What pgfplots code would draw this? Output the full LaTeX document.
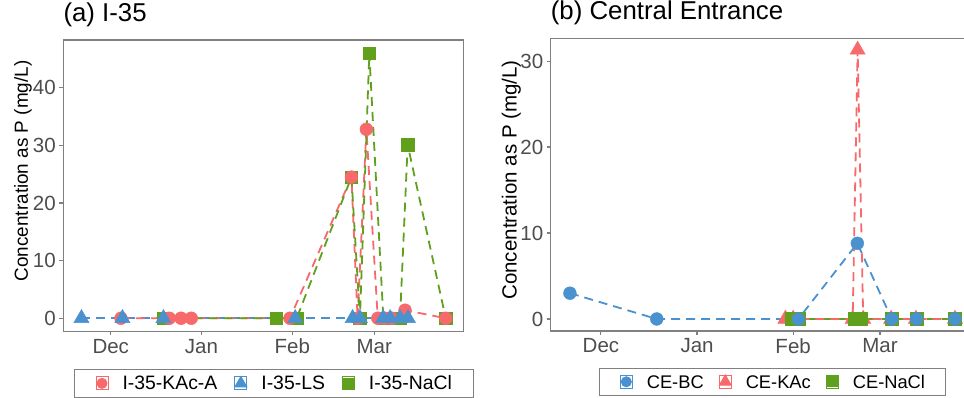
\documentclass[border=0pt]{standalone}
\usepackage{pgfplots}
\pgfplotsset{compat=1.18}
\usepackage{fontspec}
\setmainfont{Liberation Sans}
\definecolor{cred}{RGB}{248,105,107}
\definecolor{cblue}{RGB}{74,145,208}
\definecolor{cgreen}{RGB}{97,160,28}
\definecolor{tickgray}{RGB}{77,77,77}
\definecolor{framegray}{RGB}{128,128,128}
\pgfplotsset{
  panel/.style={
    scale only axis,
    axis line style={framegray, line width=1.1pt},
    tick style={framegray, line width=1.1pt},
    major tick length=4pt,
    tick align=outside,
    tick pos=left,
    xtick={0,31,62,90},
    xticklabels={Dec,Jan,Feb,Mar},
    xmin=-16.2, xmax=120.4,
    tick label style={font=\fontsize{20.5}{22}\selectfont, text=tickgray},
    /pgf/number format/assume math mode=true,
    ylabel={Concentration as P (mg/L)},
    ylabel style={inner sep=0pt, anchor=south},
    title style={font=\fontsize{25.8}{28}\selectfont, at={(0,1)}, anchor=base west, inner sep=0pt, yshift=12.5pt},
    legend columns=3,
    legend style={draw=framegray, line width=1pt, inner ysep=6pt, anchor=north west,
       nodes={inner xsep=0pt, inner ysep=0pt, anchor=base west}},
    legend image code/.code={\draw[##1] plot[only marks] coordinates {(6pt,6.5pt)}; \path (0pt,0pt) rectangle (12pt,13pt);},
  },
  dline/.style={forget plot, dash pattern=on 9pt off 6pt, line width=1.8pt},
  pred/.style={forget plot, only marks, mark=*, mark size=6.4pt, mark options={solid, line width=0.5pt, draw=cred, fill=cred}},
  pblue/.style={forget plot, only marks, mark=*, mark size=6.4pt, mark options={solid, line width=0.5pt, draw=cblue, fill=cblue}},
  tblue/.style={forget plot, only marks, mark=triangle*, mark size=8.7pt, mark options={solid, line width=0.5pt, draw=cblue, fill=cblue}},
  tred/.style={forget plot, only marks, mark=triangle*, mark size=8.7pt, mark options={solid, line width=0.5pt, draw=cred, fill=cred}},
  sgreen/.style={forget plot, only marks, mark=square*, mark size=6.3pt, mark options={solid, line width=0.5pt, draw=cgreen, fill=cgreen}},
}
\begin{document}
\begin{tikzpicture}
% ---------------- (a) I-35 ----------------
\begin{axis}[panel, at={(63.3pt,66.5pt)}, anchor=south west,
  width=400pt, height=291.5pt,
  ymin=-2.3, ymax=48.3, ytick={0,10,20,30,40},
  title={(a) I-35},
  ylabel style={at={(axis description cs:-0.078,0.551)}, font=\fontsize{18.9}{22}\selectfont},
  legend style={at={(axis description cs:0.02675,-0.1297)}, inner xsep=21pt,
    font=\fontsize{19.4}{22}\selectfont,
    /tikz/every odd column/.append style={column sep=14pt},
    /tikz/every even column/.append style={column sep=17pt}},
]
\addlegendimage{color=cred, mark=*, mark size=5pt, mark options={solid, fill=cred}}
\addlegendentry{I-35-KAc-A}
\addlegendimage{color=cblue, mark=triangle*, mark size=6.8pt, mark options={solid, fill=cblue}}
\addlegendentry{I-35-LS}
\addlegendimage{color=cgreen, mark=square*, mark size=4.8pt, mark options={solid, fill=cgreen}}
\addlegendentry{I-35-NaCl}
% lines
\addplot[dline, cblue] coordinates {(-10,0) (4,0) (18,0) (63,0) (82.6,0) (85.1,0) (93,0) (95.4,0) (98.8,0) (101.5,0)};
\addplot[dline, cred] coordinates {(3.5,0) (20,0) (24,0) (27.5,0) (61.2,0) (82.2,24.5) (84.3,0) (87.3,32.8) (91.2,0) (93.5,0) (96,0) (100.5,1.4) (114.4,0)};
\addplot[dline, cgreen] coordinates {(18,0) (56.5,0) (63.5,0) (82.2,24.5) (85.1,0) (88.3,46.0) (93.1,0) (95.5,0) (98.8,0) (101.4,30.1) (114.4,0)};
% points
\addplot[sgreen] coordinates {(18,0) (56.5,0) (63.5,0) (82.2,24.5) (85.1,0) (88.3,46.0) (93.1,0) (95.5,0) (98.8,0) (101.4,30.1) (114.4,0)};
\addplot[pred] coordinates {(3.5,0) (20,0) (24,0) (27.5,0) (61.2,0) (82.2,24.5) (84.3,0) (87.3,32.8) (91.2,0) (93.5,0) (96,0) (100.5,1.4) (114.4,0)};
\addplot[tblue] coordinates {(-10,0) (4,0) (18,0) (63,0) (82.6,0) (85.1,0) (93,0) (95.4,0) (98.8,0) (101.5,0)};
\end{axis}
% ---------------- (b) Central Entrance ----------------
\begin{axis}[panel, at={(550.7pt,67pt)}, anchor=south west,
  width=423.5pt, height=292.7pt,
  ymin=-1.4, ymax=32.65, ytick={0,10,20,30},
  title={(b) Central Entrance},
  ylabel style={at={(axis description cs:-0.0701,0.516)}, font=\fontsize{20.5}{22}\selectfont},
  legend style={at={(axis description cs:0.1148,-0.1274)}, inner xsep=20pt,
    font=\fontsize{18.3}{22}\selectfont,
    /tikz/every odd column/.append style={column sep=14pt},
    /tikz/every even column/.append style={column sep=15pt}},
]
\addlegendimage{color=cblue, mark=*, mark size=5pt, mark options={solid, fill=cblue}}
\addlegendentry{CE-BC}
\addlegendimage{color=cred, mark=triangle*, mark size=6.8pt, mark options={solid, fill=cred}}
\addlegendentry{CE-KAc}
\addlegendimage{color=cgreen, mark=square*, mark size=4.8pt, mark options={solid, fill=cgreen}}
\addlegendentry{CE-NaCl}
% lines
\addplot[dline, cblue] coordinates {(-10,3.0) (18,0) (63.7,0) (82.7,8.8) (93.8,0) (101.8,0) (114.2,0)};
\addplot[dline, cgreen] coordinates {(61.5,0) (64,0) (81.8,0) (84,0) (93.8,0) (101.8,0) (114.2,0)};
\addplot[dline, cred] coordinates {(59.5,0) (62,0) (81.2,0) (82.8,31.3) (84.6,0) (93.6,0) (101.6,0) (114.2,0)};
% points
\addplot[tred] coordinates {(59.5,0) (62,0) (81.2,0) (82.8,31.3) (84.6,0) (93.6,0) (101.6,0) (114.2,0)};
\addplot[sgreen] coordinates {(61.5,0) (64,0) (81.8,0) (84,0) (93.8,0) (101.8,0) (114.2,0)};
\addplot[pblue] coordinates {(-10,3.0) (18,0) (63.7,0) (82.7,8.8) (93.8,0) (101.8,0) (114.2,0)};
\end{axis}
\pgfresetboundingbox
\path[use as bounding box] (0pt,0pt) rectangle (964pt,398pt);
\end{tikzpicture}
\end{document}
